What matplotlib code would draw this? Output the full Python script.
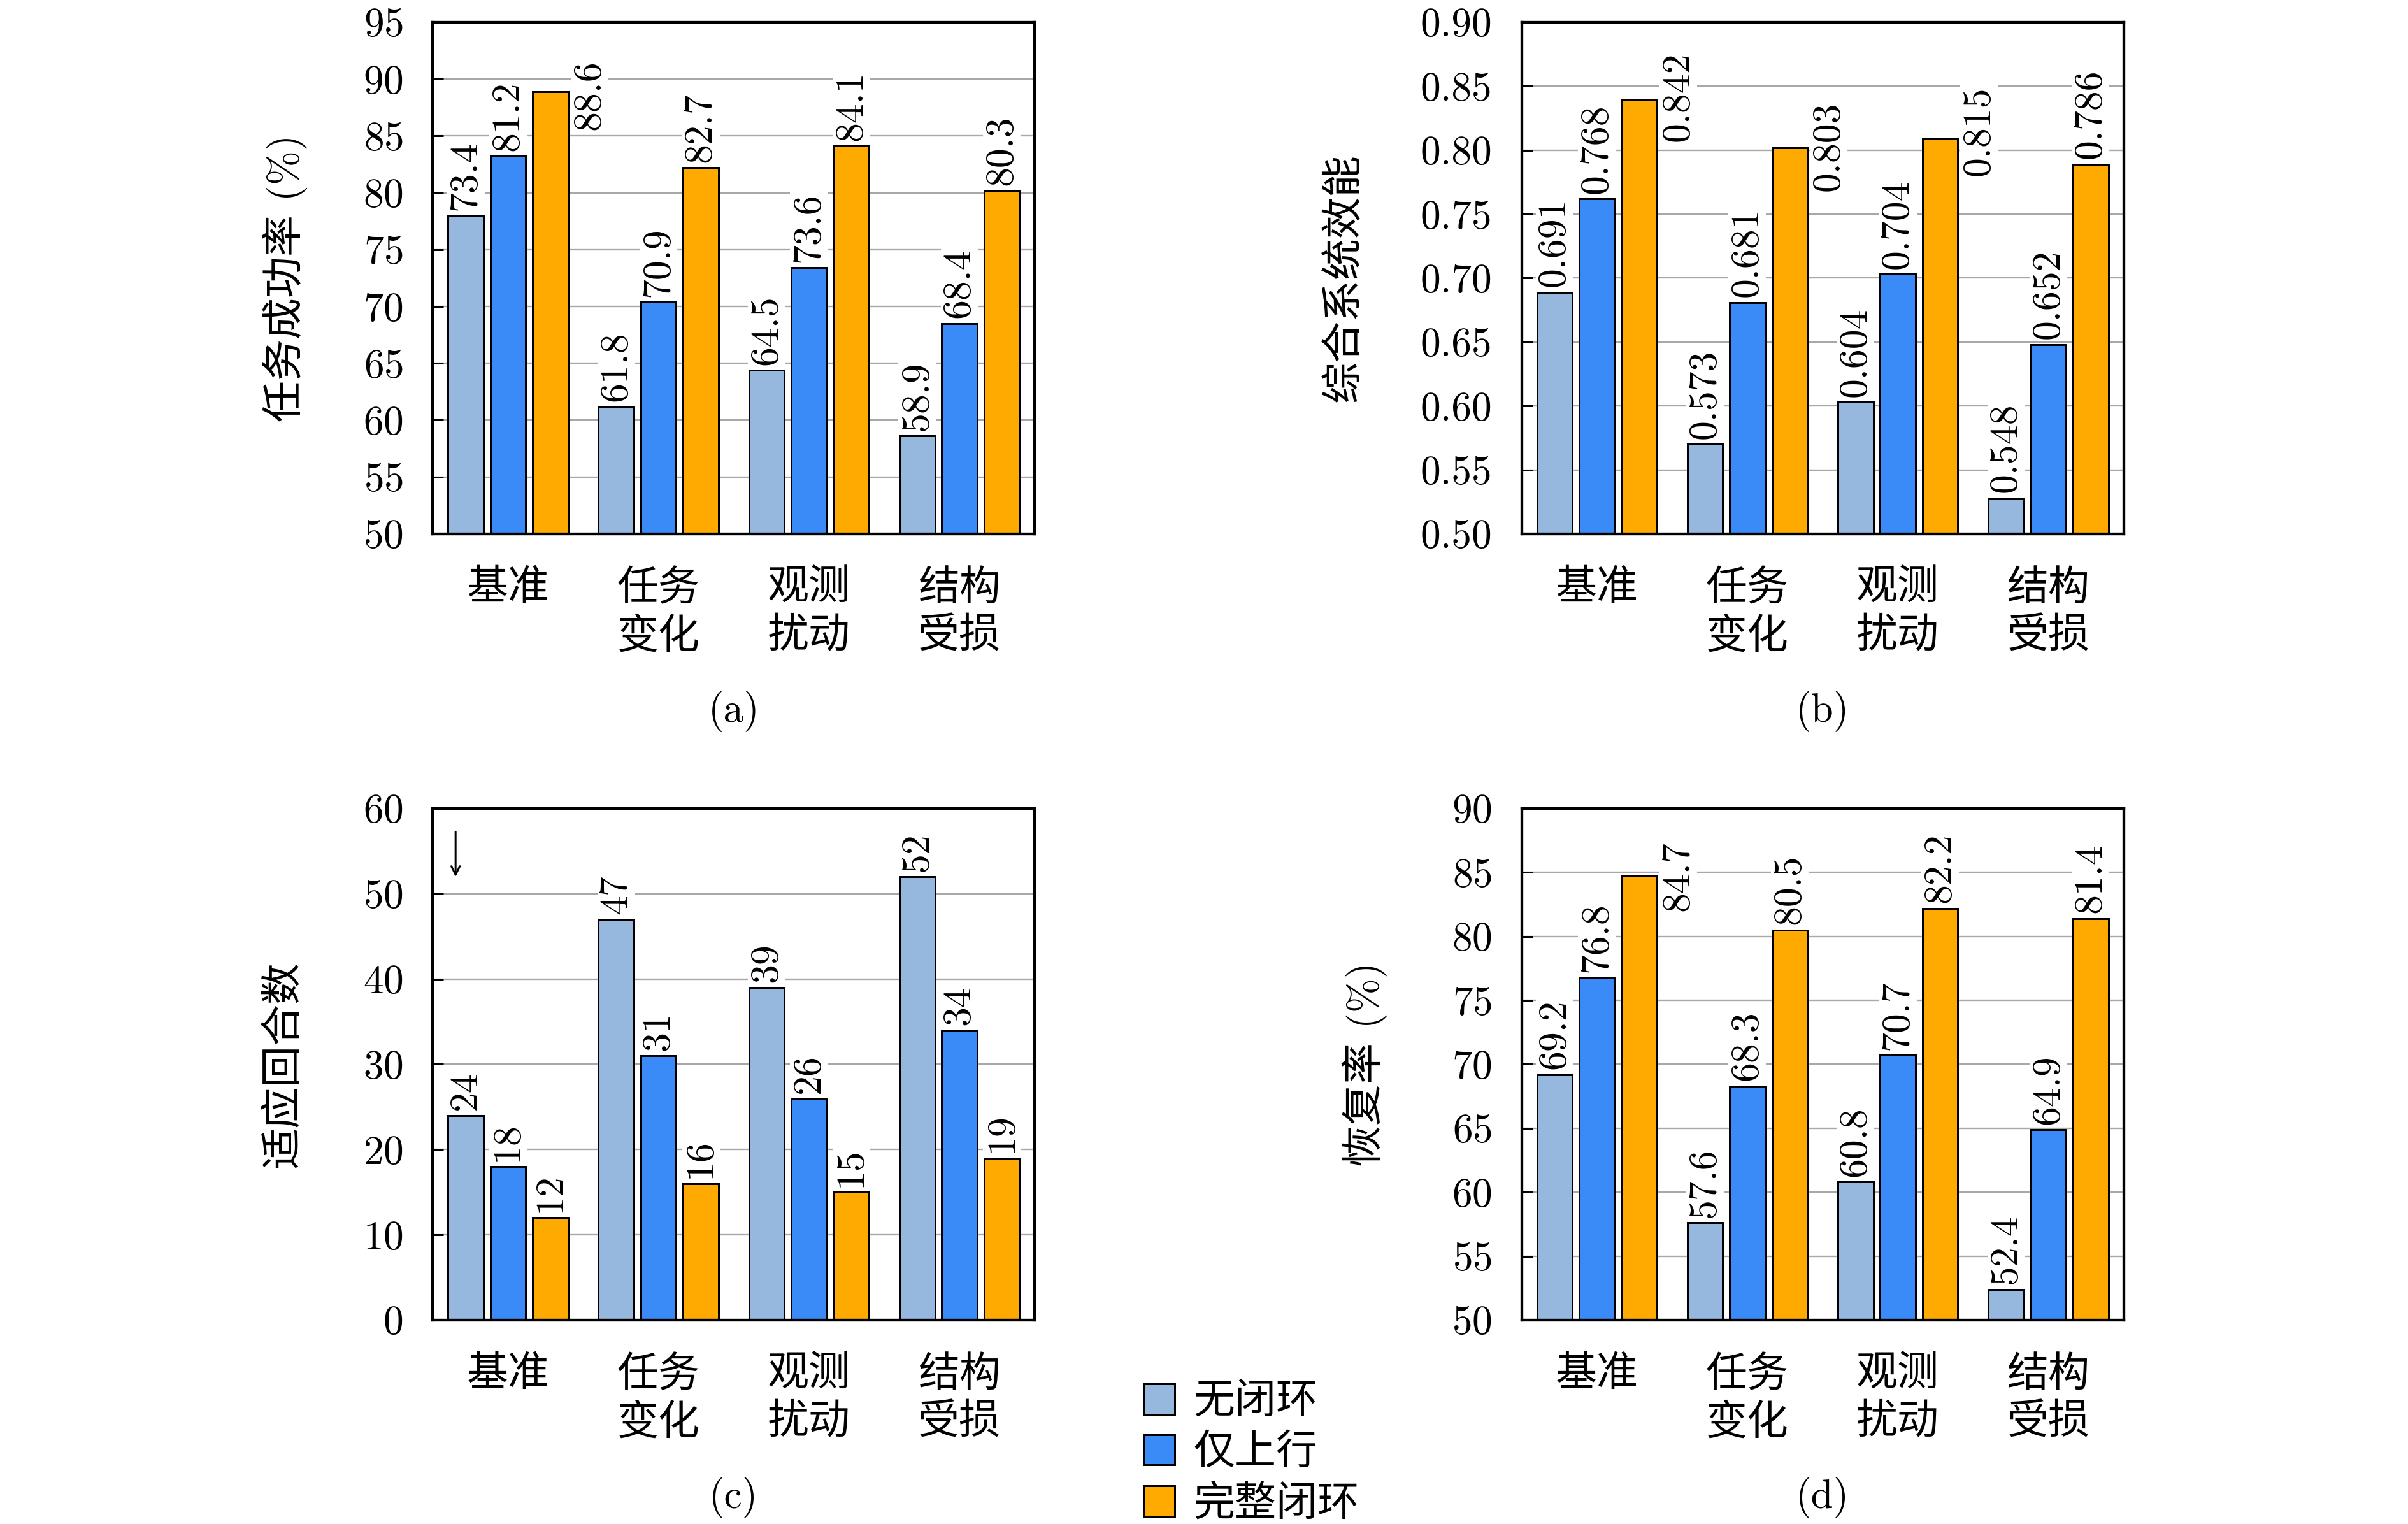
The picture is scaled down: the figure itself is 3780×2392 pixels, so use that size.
import numpy as np
import matplotlib
matplotlib.use("Agg")
import matplotlib.pyplot as plt
from matplotlib.patches import Patch
from matplotlib.ticker import MultipleLocator, FormatStrFormatter

plt.rcParams['font.family'] = ['cmr10', 'Noto Sans CJK SC']
plt.rcParams['axes.unicode_minus'] = False
plt.rcParams['axes.formatter.use_mathtext'] = True

# -------------------------------------------------------------------
# Data
# -------------------------------------------------------------------
scenarios = ["基准", "任务\n变化", "观测\n扰动", "结构\n受损"]
methods = ["无闭环", "仅上行", "完整闭环"]
colors = ["#97b8de", "#3a8af7", "#ffaa00"]

# (a) 任务成功率 -- bar heights as drawn, printed labels
success_none = [78.0, 61.2, 64.4, 58.6]
success_up = [83.2, 70.4, 73.4, 68.5]
success_full = [88.9, 82.2, 84.1, 80.2]
success_none_lbl = [73.4, 61.8, 64.5, 58.9]
success_up_lbl = [81.2, 70.9, 73.6, 68.4]
success_full_lbl = [88.6, 82.7, 84.1, 80.3]

# (b) 综合系统效能
eff_none = [0.689, 0.570, 0.603, 0.528]
eff_up = [0.762, 0.681, 0.703, 0.648]
eff_full = [0.839, 0.802, 0.809, 0.789]
eff_none_lbl = [0.691, 0.573, 0.604, 0.548]
eff_up_lbl = [0.768, 0.681, 0.704, 0.652]
eff_full_lbl = [0.842, 0.803, 0.815, 0.786]

# (c) 适应回合数
rounds_none = [24, 47, 39, 52]
rounds_up = [18, 31, 26, 34]
rounds_full = [12, 16, 15, 19]

# (d) 恢复率
recov_none = [69.2, 57.6, 60.8, 52.4]
recov_up = [76.8, 68.3, 70.7, 64.9]
recov_full = [84.7, 80.5, 82.2, 81.4]

FS_TICK = 19
FS_LBL = 18.5
FS_CJK = 19.5

BAR_W = 0.235
BAR_STEP = 0.281
SIDE_SHIFT = 0.26


def draw_panel(ax, series, labels, fmt, ylim, step, ylabel, side=(), tick_fmt=None):
    x = np.arange(len(scenarios))
    ax.set_axisbelow(True)
    ax.yaxis.grid(True, color="#a8a8a8", linewidth=0.7)
    for i, (vals, lbls) in enumerate(zip(series, labels)):
        xs = x + (i - 1) * BAR_STEP
        ax.bar(xs, vals, BAR_W, color=colors[i], edgecolor="black",
               linewidth=0.9, zorder=2)
        for j, (xx, v, l) in enumerate(zip(xs, vals, lbls)):
            txt = fmt % l
            if (i, j) in side:
                # label pushed beside the bar, centred on its value
                ax.text(xx + SIDE_SHIFT, l, txt, rotation=90, ha="center",
                        va="center", fontsize=FS_LBL, zorder=3,
                        bbox=dict(facecolor="white", edgecolor="none", pad=0.5))
            else:
                ax.annotate(txt, (xx, v), xytext=(0, 2.5), textcoords="offset points",
                            rotation=90, ha="center", va="bottom", fontsize=FS_LBL,
                            zorder=3,
                            bbox=dict(facecolor="white", edgecolor="none", pad=0.5))
    ax.set_xlim(-0.5, len(scenarios) - 0.5)
    ax.set_ylim(*ylim)
    ax.yaxis.set_major_locator(MultipleLocator(step))
    if tick_fmt:
        ax.yaxis.set_major_formatter(FormatStrFormatter(tick_fmt))
    ax.set_xticks(x)
    ax.set_xticklabels(scenarios, fontsize=FS_CJK, linespacing=1.32)
    ax.tick_params(axis="x", length=0, pad=17)
    ax.tick_params(axis="y", direction="in", length=5, width=0.9,
                   labelsize=FS_TICK, pad=14)
    for s in ax.spines.values():
        s.set_linewidth(1.3)
    ax.set_ylabel(ylabel, fontsize=FS_CJK)


fig = plt.figure(figsize=(15.75, 2392 / 240), dpi=240)

L1, L2, W = 0.1797, 0.6319, 0.2500
B1, B2, H = 0.6497, 0.1338, 0.3357

ax_a = fig.add_axes([L1, B1, W, H])
ax_b = fig.add_axes([L2, B1, W, H])
ax_c = fig.add_axes([L1, B2, W, H])
ax_d = fig.add_axes([L2, B2, W, H])

draw_panel(ax_a, [success_none, success_up, success_full],
           [success_none_lbl, success_up_lbl, success_full_lbl],
           "%.1f", (50, 95), 5, "任务成功率 (%)", side={(2, 0)})
draw_panel(ax_b, [eff_none, eff_up, eff_full],
           [eff_none_lbl, eff_up_lbl, eff_full_lbl],
           "%.3f", (0.50, 0.90), 0.05, "综合系统效能",
           side={(2, 0), (2, 1), (2, 2)}, tick_fmt="%.2f")
draw_panel(ax_c, [rounds_none, rounds_up, rounds_full],
           [rounds_none, rounds_up, rounds_full],
           "%d", (0, 60), 10, "适应回合数")
draw_panel(ax_d, [recov_none, recov_up, recov_full],
           [recov_none, recov_up, recov_full],
           "%.1f", (50, 90), 5, "恢复率 (%)", side={(2, 0)})

ax_a.yaxis.set_label_coords(-0.208, 0.5)
ax_b.yaxis.set_label_coords(-0.262, 0.5)
ax_c.yaxis.set_label_coords(-0.215, 0.5)
ax_d.yaxis.set_label_coords(-0.223, 0.5)

# "lower is better" arrow in (c)
ax_c.annotate("", xy=(0.038, 0.858), xytext=(0.038, 0.963),
              xycoords="axes fraction",
              arrowprops=dict(arrowstyle="->", color="black", lw=0.9))

# sub-captions
for ax, tag, y in [(ax_a, "(a)", 0.5334), (ax_b, "(b)", 0.5334),
                   (ax_c, "(c)", 0.0175), (ax_d, "(d)", 0.0175)]:
    pos = ax.get_position()
    fig.text(pos.x0 + pos.width / 2, y, tag, ha="center", va="center",
             fontsize=FS_TICK)

handles = [Patch(facecolor=c, edgecolor="black", linewidth=0.9) for c in colors]
fig.legend(handles, methods, loc="upper left",
           bbox_to_anchor=(1795 / 3780, 1 - 2172 / 2392),
           frameon=False, fontsize=FS_CJK, borderpad=0, borderaxespad=0,
           handlelength=0.75, handleheight=0.75, handletextpad=0.45,
           labelspacing=0.31)

fig.savefig("out.png", dpi=240)
